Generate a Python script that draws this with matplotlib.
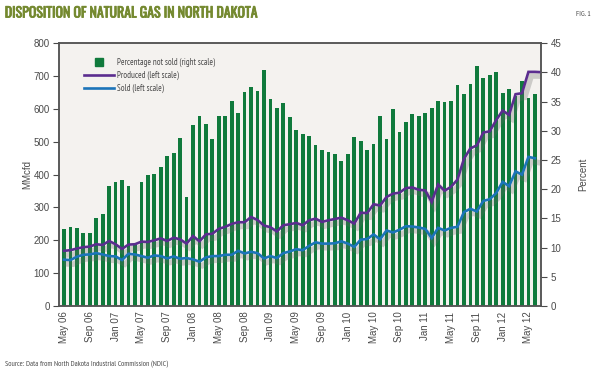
import matplotlib
matplotlib.use("Agg")
import matplotlib.pyplot as plt
import matplotlib.patheffects as pe
import numpy as np

# percentage not sold, right scale, monthly May 06 .. Jun 12
pct_not_sold = [13.2, 13.5, 13.4, 12.5, 12.5, 15.1, 15.8, 20.5, 21.2, 21.6,
                20.5, 10.5, 21.2, 22.4, 22.6, 23.8, 25.7, 26.2, 28.7, 18.7,
                31.0, 32.5, 31.1, 28.6, 32.6, 32.6, 35.2, 33.1, 36.6, 37.5,
                36.9, 40.4, 35.5, 33.9, 34.7, 32.4, 30.1, 29.5, 29.1, 27.5,
                26.7, 26.3, 26.1, 24.9, 26.0, 28.9, 28.2, 26.8, 27.8, 32.6,
                28.6, 33.7, 29.8, 31.6, 32.9, 32.6, 33.0, 33.9, 35.2, 34.9,
                35.1, 37.9, 36.3, 38.0, 41.1, 39.1, 39.6, 40.0, 36.5, 37.1,
                36.0, 38.5, 35.6, 36.3]

# MMcfd, left scale
produced = [168, 170, 175, 179, 181, 188, 186, 198, 188, 174,
            187, 188, 196, 195, 200, 206, 198, 208, 203, 190,
            213, 197, 218, 220, 235, 241, 250, 255, 255, 271,
            262, 245, 240, 227, 246, 249, 253, 246, 261, 266,
            256, 261, 265, 269, 261, 251, 284, 283, 310, 306,
            332, 342, 345, 359, 361, 354, 352, 317, 370, 351,
            363, 385, 448, 480, 489, 528, 532, 566, 595, 582,
            645, 648, 713, 713, 712]

sold = [141, 140, 150, 156, 157, 161, 157, 152, 151, 140,
        159, 157, 152, 147, 154, 152, 145, 151, 144, 146,
        142, 135, 148, 152, 152, 156, 156, 168, 160, 165,
        161, 145, 152, 146, 161, 166, 173, 170, 183, 194,
        190, 190, 191, 197, 190, 180, 202, 204, 218, 203,
        230, 224, 232, 243, 242, 239, 235, 207, 238, 230,
        238, 241, 286, 296, 288, 320, 325, 344, 378, 365,
        410, 400, 454, 450]

tick_labels = ["May 06", "Sep 06", "Jan 07", "May 07", "Sep 07", "Jan 08",
               "May 08", "Sep 08", "Jan 09", "May 09", "Sep 09", "Jan 10",
               "May 10", "Sep 10", "Jan 11", "May 11", "Sep 11", "Jan 12",
               "May 12"]

GREEN = "#107a3c"
PURPLE = "#5b2d8f"
BLUE = "#1c74b9"
TXT = "#4a4a4a"
OLIVE = "#74892f"
narrow = ["PT Sans Narrow", "Roboto Condensed", "DejaVu Sans"]

plt.rcParams["font.family"] = ["Liberation Sans", "DejaVu Sans"]

fig = plt.figure(figsize=(6.0, 3.71), dpi=100)
ax2 = fig.add_axes([0.0988, 0.1752, 0.8029, 0.7081])   # bars, percent
ax = ax2.twinx()                                       # lines, MMcfd
ax.set_zorder(ax2.get_zorder() + 1)
ax.patch.set_visible(False)
ax2.set_facecolor("#f4f2ef")

xb = np.arange(len(pct_not_sold))
ax2.bar(xb, pct_not_sold, width=0.58, color=GREEN, zorder=2)

shadow = [pe.SimpleLineShadow(offset=(2, -3), shadow_color="#666666", alpha=0.28, linewidth=4),
          pe.Normal()]
ax.plot(np.arange(len(produced)), produced, color=PURPLE, lw=1.9, path_effects=shadow,
        solid_joinstyle="miter")
ax.plot(np.arange(len(sold)), sold, color=BLUE, lw=1.9, path_effects=shadow,
        solid_joinstyle="miter")

ax2.set_xlim(-0.73, 73.95)
ax2.set_ylim(0, 45)
ax.set_ylim(0, 800)

# swap sides: percent on the right, MMcfd on the left
ax2.yaxis.tick_right()
ax2.yaxis.set_label_position("right")
ax.yaxis.tick_left()
ax.yaxis.set_label_position("left")

ax.set_yticks(np.arange(0, 801, 100))
ax2.set_yticks(np.arange(0, 46, 5))
ax2.set_xticks(np.arange(0, 73, 4))
ax2.set_xticklabels(tick_labels, rotation=90)

for a in (ax, ax2):
    a.tick_params(axis="y", labelsize=7, colors=TXT, length=4, width=0.8, pad=3)
    for s in a.spines.values():
        s.set_color("#555555")
        s.set_linewidth(1.1)
ax2.tick_params(axis="x", labelsize=7, colors=TXT, length=3, width=0.8,
                direction="in", pad=4)

ax.set_ylabel("MMcfd", fontsize=7, color=TXT, labelpad=1)
ax2.set_ylabel("Percent", fontsize=7, color=TXT, labelpad=12)

h_bar = plt.Line2D([], [], ls="none", marker="s", markersize=5.5, color=GREEN)
h_pro = plt.Line2D([], [], color=PURPLE, lw=1.9)
h_sold = plt.Line2D([], [], color=BLUE, lw=1.9)
leg = ax.legend([h_bar, h_pro, h_sold],
                ["Percentage not sold (right scale)", "Produced (left scale)", "Sold (left scale)"],
                loc="upper left", bbox_to_anchor=(0.035, 0.975), frameon=False,
                handlelength=3.4, handletextpad=0.35, labelspacing=0.45,
                prop={"family": narrow, "size": 6.3})
for t in leg.get_texts():
    t.set_color(TXT)

fig.text(0.008, 0.965, "DISPOSITION OF NATURAL GAS IN NORTH DAKOTA", fontsize=10,
         fontweight="bold", color=OLIVE, family=["Oswald", "Roboto Condensed", "DejaVu Sans"],
         va="center", ha="left",
         path_effects=[pe.withStroke(linewidth=0.6, foreground=OLIVE)])
fig.text(0.985, 0.962, "FIG. 1", fontsize=5.5, color=TXT, family=narrow, va="center", ha="right")
fig.text(0.008, 0.016, "Source: Data from North Dakota Industrial Commission (NDIC)",
         fontsize=5.5, color=TXT, family=narrow, va="center", ha="left")

fig.savefig("out.png", dpi=100, facecolor="white")
